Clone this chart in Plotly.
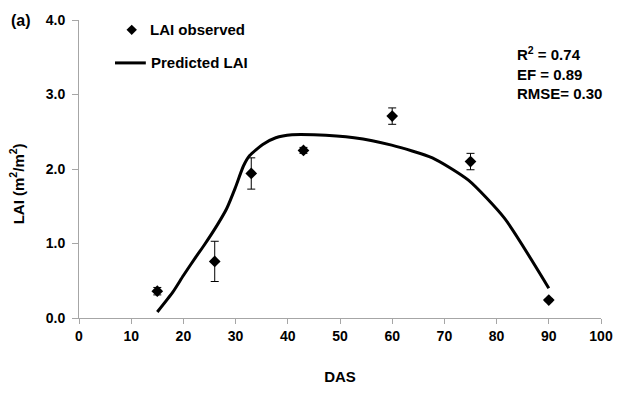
import plotly.graph_objects as go

# Observed LAI
obs_das = [15, 26, 33, 43, 60, 75, 90]
obs_lai = [0.36, 0.76, 1.94, 2.25, 2.71, 2.10, 0.24]
obs_err = [0.05, 0.27, 0.21, 0.04, 0.11, 0.11, 0.02]

# Predicted LAI
pred_das = [15, 18, 20, 22.4, 24, 26.5, 28.3, 29.9, 31.5, 32.7, 35.2, 37.7, 40.8, 45,
            52.7, 59.9, 67.7, 74.6, 81.5, 90]
pred_lai = [0.08, 0.35, 0.57, 0.82, 0.98, 1.25, 1.47, 1.74, 2.04, 2.18, 2.33, 2.42, 2.46, 2.46,
            2.42, 2.32, 2.15, 1.85, 1.34, 0.40]

x_ticks = [0, 10, 20, 30, 40, 50, 60, 70, 80, 90, 100]
y_ticks = [0.0, 1.0, 2.0, 3.0, 4.0]
y_ticklabels = ["0.0", "1.0", "2.0", "3.0", "4.0"]

FONT = "Arial, Liberation Sans, sans-serif"
AXIS_COLOR = "#a6a6a6"

fig = go.Figure()
fig.add_trace(go.Scatter(
    x=pred_das, y=pred_lai, mode="lines", name="Predicted LAI",
    line=dict(color="black", width=3, shape="spline", smoothing=0.6),
    showlegend=False,
))
fig.add_trace(go.Scatter(
    x=obs_das, y=obs_lai, mode="markers", name="LAI observed",
    marker=dict(symbol="diamond", size=9, color="black"),
    error_y=dict(type="data", array=obs_err, visible=True, color="black", thickness=1, width=4),
    showlegend=False,
))

# Manual legend
fig.add_trace(go.Scatter(
    x=[0.101], y=[0.967], xaxis="x2", yaxis="y2", mode="markers",
    marker=dict(symbol="diamond", size=8, color="black"), showlegend=False, hoverinfo="skip"))
fig.add_trace(go.Scatter(
    x=[0.069, 0.128], y=[0.856, 0.856], xaxis="x2", yaxis="y2", mode="lines",
    line=dict(color="black", width=3), showlegend=False, hoverinfo="skip"))

annotations = [
    dict(x=0.133, y=0.967, xref="paper", yref="paper", text="LAI observed", showarrow=False,
         xanchor="left", yanchor="middle", font=dict(size=15, family=FONT, color="black")),
    dict(x=0.135, y=0.856, xref="paper", yref="paper", text="Predicted LAI", showarrow=False,
         xanchor="left", yanchor="middle", font=dict(size=15, family=FONT, color="black")),
    dict(x=0.836, y=0.925, xref="paper", yref="paper",
         text="R<sup>2</sup> = 0.74<br>EF = 0.89<br>RMSE= 0.30", showarrow=False,
         xanchor="left", yanchor="top", align="left",
         font=dict(size=15, family=FONT, color="black")),
    dict(x=-0.134, y=1.0, xref="paper", yref="paper", text="(a)", showarrow=False,
         xanchor="left", yanchor="middle", font=dict(size=16, family=FONT, color="black")),
    dict(x=-0.118, y=0.45, xref="paper", yref="paper", text="LAI (m<sup>2</sup>/m<sup>2</sup>)",
         showarrow=False, textangle=-90, xanchor="center", yanchor="middle",
         font=dict(size=15, family=FONT, color="black")),
]

fig.update_layout(
    width=625, height=394,
    margin=dict(l=79, r=13, t=17, b=72),
    paper_bgcolor="white", plot_bgcolor="white",
    font=dict(family=FONT, size=14, color="black"),
    annotations=annotations,
    xaxis=dict(range=[0, 100], tickvals=x_ticks, ticks="outside", ticklen=5, tickcolor=AXIS_COLOR,
               showline=True, linecolor=AXIS_COLOR, linewidth=1, showgrid=False, zeroline=False,
               tickfont=dict(size=14, family=FONT, weight="bold"),
               title=dict(text="<b>DAS</b>", font=dict(size=15, family=FONT), standoff=28)),
    yaxis=dict(range=[0, 4.0], tickvals=y_ticks, ticktext=y_ticklabels, ticks="outside", ticklen=6,
               tickcolor=AXIS_COLOR, showline=True, linecolor=AXIS_COLOR, linewidth=1,
               showgrid=False, zeroline=False, ticklabelstandoff=4,
               tickfont=dict(size=14, family=FONT, weight="bold")),
    xaxis2=dict(range=[0, 1], overlaying="x", visible=False),
    yaxis2=dict(range=[0, 1], overlaying="y", visible=False),
)
for a in fig.layout.annotations:
    a.font.weight = "bold"

fig.write_html("out.html", config={"displayModeBar": False},
               post_script="document.body.style.margin='0';")
